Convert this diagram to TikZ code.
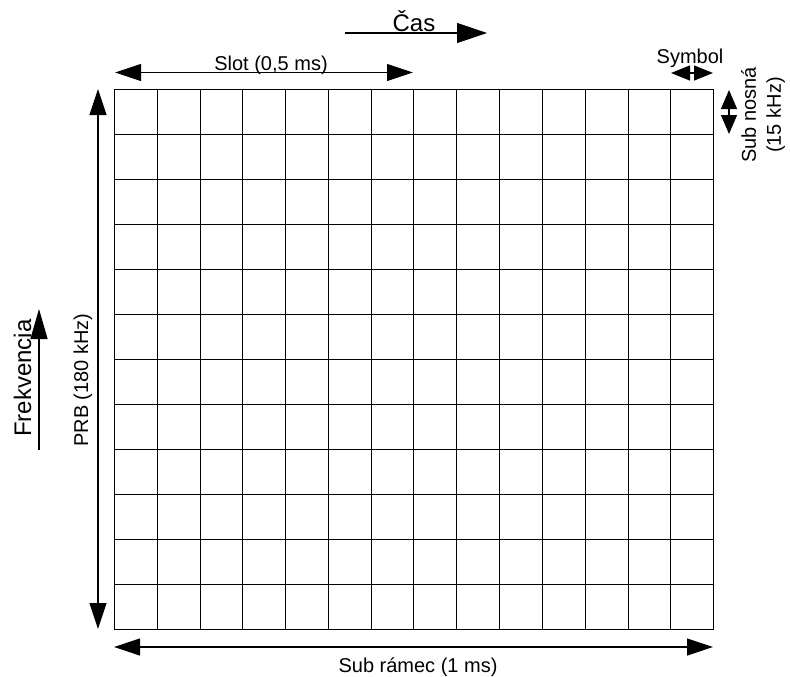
\documentclass[tikz,border=0pt]{standalone}
\usepackage{fontspec}
\setmainfont{Liberation Sans}
\usetikzlibrary{arrows.meta}
\begin{document}
\begin{tikzpicture}[x=1pt,y=-1pt,
  gridline/.style={line width=1.2pt, black},
  shaft/.style={line width=1.2pt, black},
  bighead/.style={-{Triangle[length=30pt,width=20pt]}},
  dimboth/.style={{Triangle[length=26pt,width=17pt]}-{Triangle[length=26pt,width=17pt]}},
  symboth/.style={{Triangle[length=19pt,width=15pt]}-{Triangle[length=19pt,width=15pt]}},
  subboth/.style={{Triangle[length=19pt,width=16pt]}-{Triangle[length=19pt,width=16pt]}},
  lbl/.style={inner sep=0pt, font=\fontsize{20}{25}\selectfont},
  biglbl/.style={inner sep=0pt, font=\fontsize{24}{28}\selectfont}]
\useasboundingbox (0,0) rectangle (790,677);

% grid: 14 columns x 12 rows
\foreach \x in {114,157,200,242,285,328,371,413,456,499,542,585,628,670,713} {
  \draw[gridline] (\x.5,89.5) -- (\x.5,629.5);
}
\foreach \j in {0,...,12} {
  \draw[gridline] (114.5,{89.5+\j*45}) -- (713.5,{89.5+\j*45});
}

% coordinates for arrows
\coordinate (casA) at (345,33);
\coordinate (casB) at (487,33);
\coordinate (slotA) at (115,72.5);
\coordinate (slotB) at (413,72.5);
\coordinate (symA) at (671,73);
\coordinate (symB) at (713,73);
\coordinate (subA) at (729,90);
\coordinate (subB) at (729,134);
\coordinate (prbA) at (98,89);
\coordinate (prbB) at (98,629);
\coordinate (frA) at (39,450);
\coordinate (frB) at (39,309);
\coordinate (srA) at (114,647);
\coordinate (srB) at (713,647);

% arrows
\draw[shaft, bighead] (casA) -- (casB);
\draw[shaft, dimboth] (slotA) -- (slotB);
\draw[shaft, symboth] (symA) -- (symB);
\draw[shaft, subboth] (subA) -- (subB);
\draw[shaft, dimboth] (prbA) -- (prbB);
\draw[shaft, -{Triangle[length=30pt,width=17pt]}] (frA) -- (frB);
\draw[shaft, dimboth] (srA) -- (srB);

% labels
\node[biglbl, anchor=base] (cas) at (414,32) {Čas};
\node[lbl, anchor=base] (slot) at (271,70.5) {Slot (0,5 ms)};
\node[lbl, anchor=base] (sym) at (690,64) {Symbol};
\node[lbl, anchor=base] (subramec) at (418,672) {Sub rámec (1 ms)};
\node[lbl, anchor=base, rotate=90] (prb) at (88,380) {PRB (180 kHz)};
\node[biglbl, anchor=base, rotate=90] (frek) at (31,378) {Frekvencia};
\node[lbl, align=center, rotate=90] (subnosna) at (763,115) {Sub nosná\\(15 kHz)};
\end{tikzpicture}
\end{document}
